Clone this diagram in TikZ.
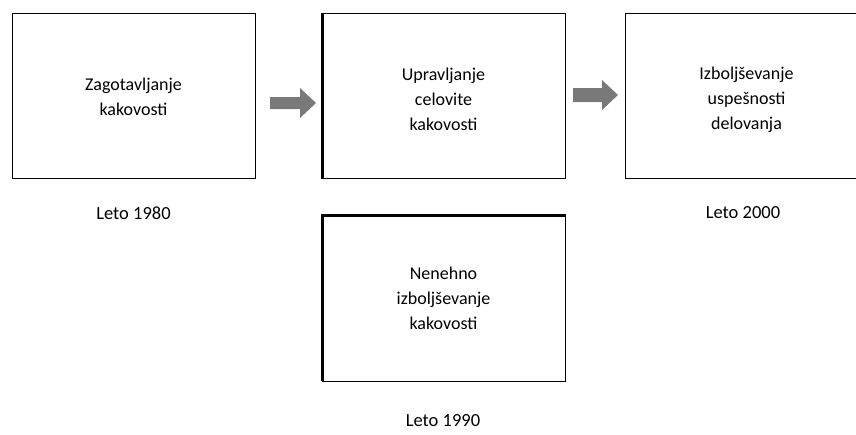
\documentclass[tikz,border=0pt]{standalone}
\usepackage{fontspec}
\setmainfont{Carlito}
\begin{document}
\begin{tikzpicture}[x=1pt,y=-1pt,
  box/.style={draw=black,line width=1pt,minimum width=243pt,minimum height=165pt,inner sep=0pt,fill=white},
  txt/.style={font=\fontsize{18}{25}\selectfont,align=center,inner sep=0pt},
  lbl/.style={font=\fontsize{18.5}{20}\selectfont},
  garrow/.style={fill=gray!95!black,draw=none}]
\path[use as bounding box,fill=white] (0,0) rectangle (856,434);
\begin{scope}
\clip (0,0) rectangle (856,434);
\node[box] (b1) at (133.5,95.5) {};
\node[box] (b2) at (443.5,95.5) {};
\node[box] (b3) at (746.5,95.5) {};
\node[box] (b4) at (443.5,299) {};
\node[txt] (t1) at ([yshift=-1pt]b1.center) {Zagotavljanje\\kakovosti};
\node[txt] (t2) at ([yshift=-4pt]b2.center) {Upravljanje\\celovite\\kakovosti};
\node[txt] (t3) at ([yshift=-4pt]b3.center) {Izboljševanje\\uspešnosti\\delovanja};
\node[txt] (t4) at ([yshift=1pt]b4.center) {Nenehno\\izboljševanje\\kakovosti};
\draw[line width=3pt] ([xshift=1pt]b2.north west) -- ([xshift=1pt]b2.south west);
\draw[line width=3pt] ([xshift=1pt,yshift=1pt]b4.south west) -- ([xshift=1pt,yshift=1pt]b4.north west) -- ([yshift=1pt]b4.north east);
\node[lbl] (l1) at (133.5,213) {Leto 1980};
\node[lbl] (l3) at (743,213) {Leto 2000};
\node[lbl] (l4) at (443,421) {Leto 1990};
\coordinate (a1) at (270,103);
\coordinate (a2) at (573,95);
\fill[garrow] (a1) ++(0,-6) -- ++(30,0) -- ++(0,-9) -- ++(16,15) -- ++(-16,15) -- ++(0,-9) -- ++(-30,0) -- cycle;
\fill[garrow] (a2) ++(0,-7) -- ++(29,0) -- ++(0,-8) -- ++(16,15) -- ++(-16,15) -- ++(0,-8) -- ++(-29,0) -- cycle;
\end{scope}
\end{tikzpicture}
\end{document}
